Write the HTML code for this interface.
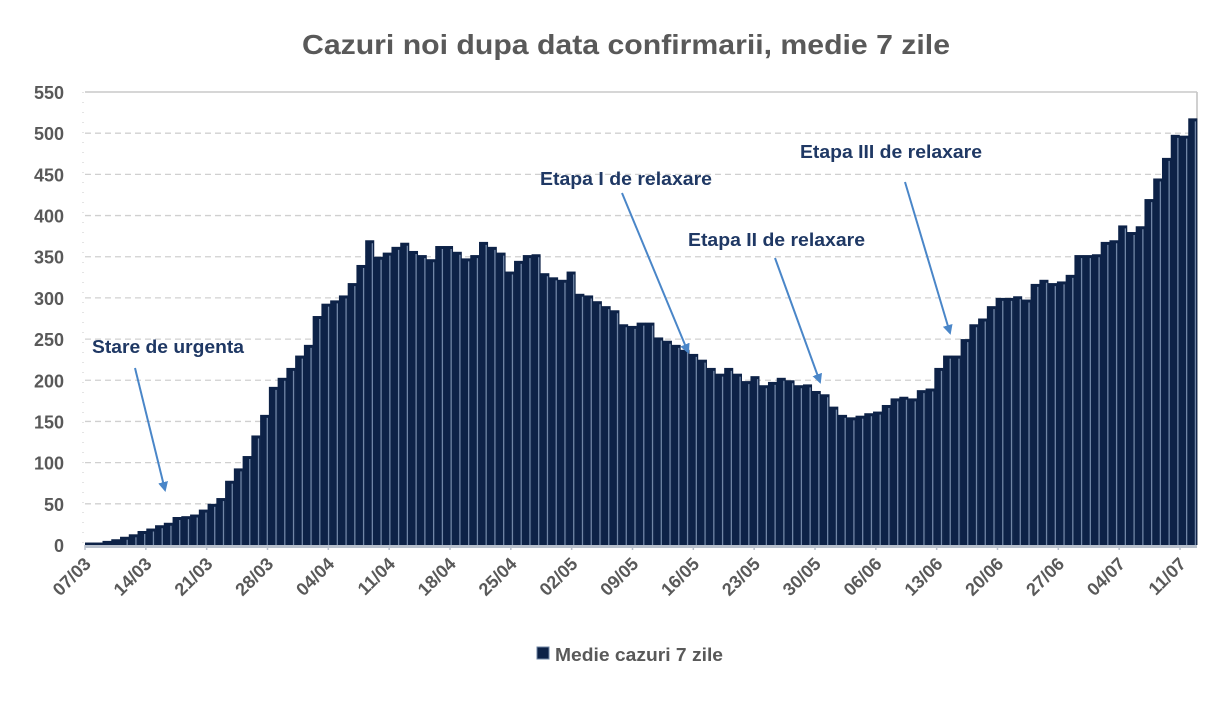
<!DOCTYPE html>
<html><head><meta charset="utf-8"><style>
body{margin:0;background:#fff;}
svg text{font-family:"Liberation Sans",sans-serif;font-weight:bold;}
</style></head><body>
<svg id="s" width="1225" height="700" xmlns="http://www.w3.org/2000/svg">
<rect width="1225" height="700" fill="#fff"/>
<text x="626" y="54" text-anchor="middle" font-size="28" fill="#595959" textLength="648" lengthAdjust="spacingAndGlyphs">Cazuri noi dupa data confirmarii, medie 7 zile</text>
<g id="g"></g>
<defs><marker id="ah" markerWidth="10" markerHeight="10" refX="8" refY="5" orient="auto" markerUnits="userSpaceOnUse"><path d="M0,0 L10,5 L0,10 z" fill="#4a86c8"/></marker></defs>
<g fill="#1f3864" font-size="18">
<text x="92" y="353" textLength="152" lengthAdjust="spacingAndGlyphs">Stare de urgenta</text>
<text x="540" y="185" textLength="172" lengthAdjust="spacingAndGlyphs">Etapa I de relaxare</text>
<text x="688" y="246" textLength="177" lengthAdjust="spacingAndGlyphs">Etapa II de relaxare</text>
<text x="800" y="158" textLength="182" lengthAdjust="spacingAndGlyphs">Etapa III de relaxare</text>
</g>
<g stroke="#4a86c8" stroke-width="2" marker-end="url(#ah)">
<line x1="135" y1="368" x2="165" y2="490"/>
<line x1="622" y1="193" x2="688" y2="352"/>
<line x1="775" y1="258" x2="820" y2="382"/>
<line x1="905" y1="182" x2="950" y2="333"/>
</g>
<rect x="537" y="647" width="12" height="12" fill="#0d2247" stroke="#6f84a3"/>
<text x="555" y="661" font-size="18" fill="#595959" textLength="168" lengthAdjust="spacingAndGlyphs">Medie cazuri 7 zile</text>
</svg>
<script>
var d=[3,3,5,7,10,13,17,20,24,27,34,35,37,43,50,57,78,93,108,133,158,192,203,215,230,243,278,
293,297,303,318,340,370,350,355,362,367,357,352,347,363,363,356,348,352,368,362,355,
332,345,352,353,330,325,322,332,305,303,296,290,285,268,266,270,270,252,248,243,237,
232,225,215,208,215,208,199,205,194,198,203,200,194,195,187,183,168,158,155,157,160,
162,170,178,180,178,188,190,215,230,230,250,268,275,290,300,300,302,298,317,
322,318,320,328,352,352,353,368,370,388,380,387,420,445,470,498,497,518];
var g=document.getElementById('g'),h='';
var x0=85,x1=1197,y0=545,k=453/550,n=d.length,w=(x1-x0)/n;
for(var v=0;v<=550;v+=50){var y=y0-v*k;
 if(v>0&&v<550)h+='<line x1="'+x0+'" x2="'+x1+'" y1="'+y+'" y2="'+y+'" stroke="#d0d0d0" stroke-dasharray="6,4" stroke-width="1.3"/>';
 h+='<text x="64" y="'+(y+7)+'" text-anchor="end" font-size="18" fill="#595959">'+v+'</text>';}
h+='<line x1="'+x1+'" x2="'+x1+'" y1="92" y2="'+y0+'" stroke="#d0d0d0" stroke-width="2"/>';
h+='<line x1="'+x0+'" x2="'+x1+'" y1="92" y2="92" stroke="#c8c8c8" stroke-width="1.5"/>';
h+='<line x1="83" x2="83" y1="92" y2="'+y0+'" stroke="#c8c8c8" stroke-width="1" stroke-dasharray="1,9"/>';
for(var i=0;i<n;i++){var x=x0+i*w,t=y0-d[i]*k;
 h+='<rect x="'+x+'" y="'+t+'" width="'+(w+0.3)+'" height="'+(y0-t)+'" fill="#0d2247"/>';
 if(d[i]>8)h+='<line x1="'+(x+w-1.6)+'" x2="'+(x+w-1.6)+'" y1="'+(t+3)+'" y2="'+y0+'" stroke="#7186a6" stroke-width="1.3"/>';}
h+='<line x1="'+x0+'" x2="'+x1+'" y1="'+(y0+1.5)+'" y2="'+(y0+1.5)+'" stroke="#b8c0cc" stroke-width="3"/>';
var labs=['07/03','14/03','21/03','28/03','04/04','11/04','18/04','25/04','02/05','09/05','16/05','23/05','30/05','06/06','13/06','20/06','27/06','04/07','11/07'];
for(var j=0;j<labs.length;j++){var x=x0+j*7*(1095/126);
 h+='<line x1="'+x+'" x2="'+x+'" y1="'+y0+'" y2="'+(y0+5)+'" stroke="#b8c0cc" stroke-width="1.5"/>';
 h+='<text transform="translate('+(x+7)+','+(y0+20)+') rotate(-45)" text-anchor="end" font-size="18" fill="#595959">'+labs[j]+'</text>';}
g.innerHTML=h;
</script>
</body></html>
